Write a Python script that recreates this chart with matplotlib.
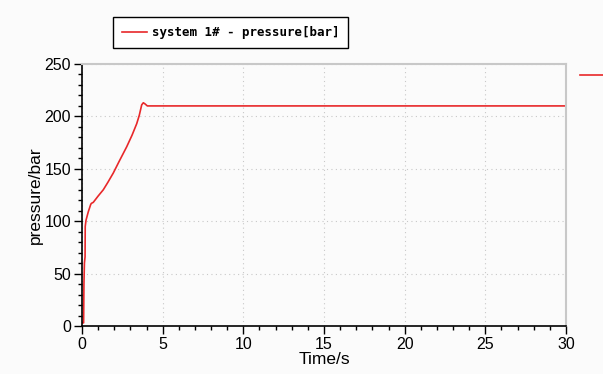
import matplotlib
matplotlib.use("Agg")
import matplotlib.pyplot as plt
from matplotlib.ticker import MultipleLocator
from matplotlib.lines import Line2D

# pressure curve
time_s = [0.0, 0.10, 0.12, 0.15, 0.19, 0.20, 0.25, 0.39, 0.54, 0.58, 0.70, 1.00,
          1.32, 1.60, 1.94, 2.30, 2.77, 3.10, 3.39, 3.55, 3.70, 3.80, 3.90, 4.05,
          4.30, 30.0]
pressure = [3, 3, 40, 60, 66, 95, 101, 109, 116, 117, 118, 124,
            130, 137, 146, 157, 171, 182, 193, 201, 211, 213, 212, 210,
            210, 210]

label = "system 1# - pressure[bar]"

fig = plt.figure(figsize=(6.03, 3.74), dpi=100, facecolor="#fbfbfb")
ax = fig.add_axes([82 / 603, 48 / 374, 484 / 603, 262 / 374])
ax.set_facecolor("#fbfbfb")

ax.plot(time_s, pressure, color="#e8282a", lw=1.2)

ax.set_xlim(0, 30)
ax.set_ylim(0, 250)
ax.xaxis.set_major_locator(MultipleLocator(5))
ax.xaxis.set_minor_locator(MultipleLocator(1))
ax.yaxis.set_major_locator(MultipleLocator(50))
ax.yaxis.set_minor_locator(MultipleLocator(10))
ax.tick_params(which="major", direction="out", length=6, width=1, labelsize=11.5,
               pad=2)
ax.tick_params(which="minor", direction="out", length=3, width=1)
for t in ax.get_xticklabels() + ax.get_yticklabels():
    t.set_fontfamily("Liberation Sans")

ax.grid(True, which="major", ls=(0, (1, 3)), color="#c8c8c8", lw=0.8)
for s in ["top", "right"]:
    ax.spines[s].set_color("#c8c8c8")
    ax.spines[s].set_linewidth(1.5)
for s in ["left", "bottom"]:
    ax.spines[s].set_color("black")
    ax.spines[s].set_linewidth(1.2)

ax.set_xlabel("Time/s", fontsize=12.5, family="Liberation Sans", labelpad=0)
ax.set_ylabel("pressure/bar", fontsize=12.5, family="Liberation Sans", labelpad=1)

handle = Line2D([], [], color="#e8282a", lw=1.2)
leg = fig.legend([handle], [label], loc="upper left",
                 bbox_to_anchor=(107 / 603, 1 - 11 / 374),
                 fancybox=False, edgecolor="black", framealpha=1,
                 facecolor="white", handlelength=2.0, handletextpad=0.4,
                 borderpad=0.7,
                 prop={"family": "DejaVu Sans Mono", "size": 9, "weight": "bold"})
leg.get_frame().set_linewidth(1.0)

# cut-off legend entry at right edge
fig.add_artist(Line2D([580 / 603, 1.0], [1 - 75 / 374, 1 - 75 / 374],
                      color="#e8282a", lw=1.2, transform=fig.transFigure))

fig.savefig("out.png", dpi=100, facecolor=fig.get_facecolor())
